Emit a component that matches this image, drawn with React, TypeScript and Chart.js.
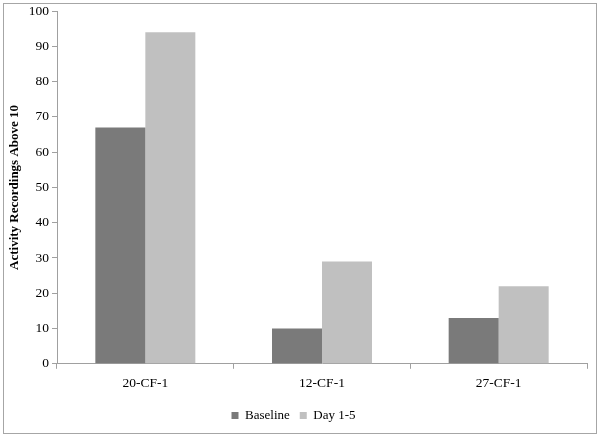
import { useEffect, useRef } from 'react'
import Chart from 'chart.js/auto'

const categories = ['20-CF-1', '12-CF-1', '27-CF-1']
const baseline = [67, 10, 13]
const day15 = [94, 29, 22]
const yTicks = [0, 10, 20, 30, 40, 50, 60, 70, 80, 90, 100]

const serif = '"Liberation Serif", "Times New Roman", serif'

export default function App() {
  const chartRef = useRef<HTMLCanvasElement>(null)

  useEffect(() => {
    document.body.style.margin = '0'
    if (!chartRef.current) return
    const chart = new Chart(chartRef.current, {
      type: 'bar',
      data: {
        labels: categories,
        datasets: [
          { label: 'Baseline', data: baseline, backgroundColor: '#7a7a7a' },
          { label: 'Day 1-5', data: day15, backgroundColor: '#c0c0c0' },
        ],
      },
      options: {
        animation: false,
        responsive: false,
        layout: { padding: { top: 3, right: 13, left: 0, bottom: 4 } },
        datasets: {
          bar: { barPercentage: 1, categoryPercentage: 0.566 },
        },
        scales: {
          x: {
            grid: { drawOnChartArea: false, color: '#a0a0a0', tickLength: 5, offset: true },
            border: { color: '#a0a0a0' },
            ticks: { color: '#000', font: { family: serif, size: 13.5 }, padding: 7 },
          },
          y: {
            min: 0,
            max: 100,
            afterBuildTicks: (scale) => {
              scale.ticks = yTicks.map((v) => ({ value: v }))
            },
            afterFit: (scale) => {
              scale.width = 57
            },
            grid: { drawOnChartArea: false, color: '#a0a0a0', tickLength: 5 },
            border: { color: '#a0a0a0' },
            ticks: { color: '#000', font: { family: serif, size: 13.5 }, padding: 3 },
            title: {
              display: true,
              text: 'Activity Recordings Above 10',
              color: '#000',
              font: { family: serif, size: 13, weight: 'bold' },
              padding: { top: 7, bottom: 0 },
            },
          },
        },
        plugins: {
          legend: {
            position: 'bottom',
            labels: {
              color: '#000',
              font: { family: serif, size: 13 },
              boxWidth: 7,
              boxHeight: 7,
              padding: 10,
            },
          },
          tooltip: { enabled: false },
        },
      },
    })
    return () => {
      chart.destroy()
    }
  }, [])

  return (
    <div style={{ position: 'relative', width: 600, height: 436, background: '#fff' }}>
      <div
        style={{
          position: 'absolute',
          left: 3,
          top: 3,
          width: 592,
          height: 429,
          border: '1px solid #a6a6a6',
        }}
      />
      <canvas ref={chartRef} width={600} height={436} style={{ position: 'absolute', left: 0, top: 0 }} />
    </div>
  )
}
